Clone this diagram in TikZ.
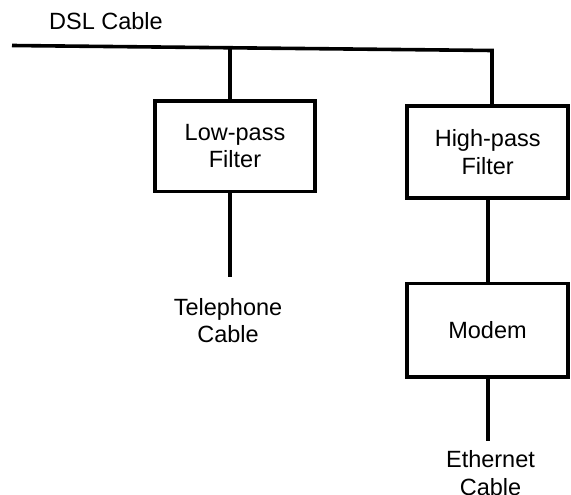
\documentclass[tikz,border=0pt]{standalone}
\usepackage{fontspec}
\setmainfont{Liberation Sans}
\begin{document}
\begin{tikzpicture}[x=1pt,y=-1pt,
  wire/.style={line width=3.6pt},
  box/.style={draw,line width=3.6pt,rectangle,align=center,inner sep=0pt,font=\fontsize{23.5}{27.3}\selectfont},
  lbl/.style={align=center,inner sep=0pt,font=\fontsize{23.5}{27.3}\selectfont}]
\useasboundingbox (0,0) rectangle (571,495);
\node[lbl] (dsl) at (106,21) {DSL Cable};
\coordinate (dslL) at (12,45.5);
\coordinate (j1) at (230,48);
\coordinate (dslR) at (492,50.5);
\node[box,minimum width=160pt,minimum height=90.5pt] (lp) at (235,146.2) {Low-pass\\Filter};
\node[box,minimum width=161pt,minimum height=91.7pt] (hp) at (487.7,152) {High-pass\\Filter};
\node[box,minimum width=161.5pt,minimum height=93.4pt] (modem) at (487.5,330) {Modem};
\coordinate (telEnd) at (230,277);
\coordinate (ethEnd) at (488,441);
\node[lbl] (tel) at (228,320.5) {Telephone\\Cable};
\node[lbl] (eth) at (490.5,473) {Ethernet\\Cable};
\draw[wire] (dslL) -- (dslR) -- (dslR |- hp.north);
\draw[wire] (j1) -- (j1 |- lp.north);
\draw[wire] (telEnd |- lp.south) -- (telEnd);
\draw[wire] (ethEnd |- hp.south) -- (ethEnd |- modem.north);
\draw[wire] (ethEnd |- modem.south) -- (ethEnd);
\end{tikzpicture}
\end{document}
